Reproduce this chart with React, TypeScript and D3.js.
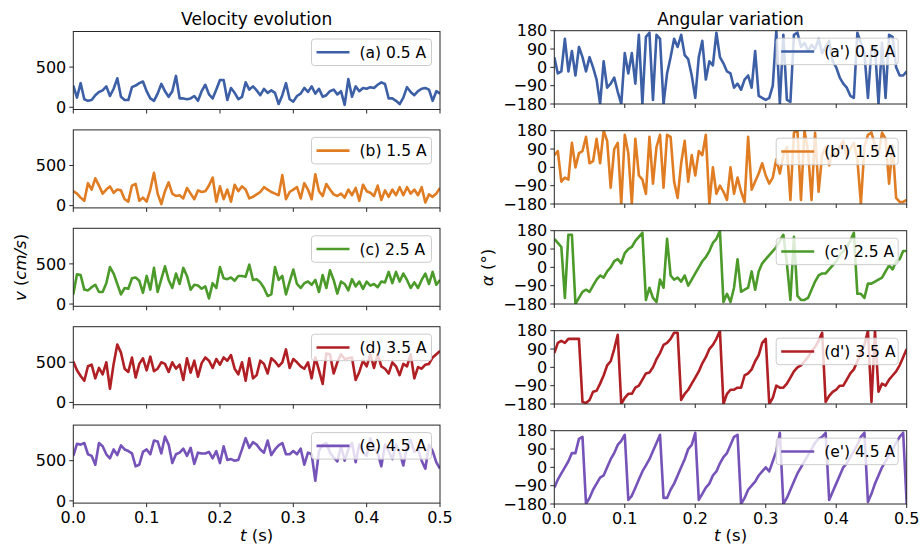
import React from "react";
import * as d3 from "d3";

// time axis: every series is sampled on the same grid from 0 to 0.5 s
const T_END = 0.5;
const xTicks = [0, 0.1, 0.2, 0.3, 0.4, 0.5];
const velTicks = [0, 500];
const angTicks = [-180, -90, 0, 90, 180];

const velLabels = ["(a) 0.5 A", "(b) 1.5 A", "(c) 2.5 A", "(d) 3.5 A", "(e) 4.5 A"];
const angLabels = ["(a') 0.5 A", "(b') 1.5 A", "(c') 2.5 A", "(d') 3.5 A", "(e') 4.5 A"];
const colors = ["#3c5fa6", "#e07c22", "#4b9a2a", "#b01f24", "#7653b8"];

// velocity (cm/s)
const velA = [
  270, 120, 300, 100, 80, 90, 150, 190, 210, 260,
  140, 230, 360, 130, 90, 90, 250, 270, 300, 320,
  200, 110, 80, 170, 290, 200, 130, 200, 390, 110,
  110, 100, 110, 140, 80, 200, 280, 160, 110, 220,
  340, 340, 90, 240, 180, 100, 130, 310, 220, 260,
  210, 150, 230, 180, 210, 180, 40, 150, 300, 100,
  70, 140, 170, 240, 190, 260, 170, 230, 130, 150,
  200, 220, 160, 200, 30, 350, 130, 260, 200, 240,
  230, 250, 240, 280, 310, 290, 110, 110, 80, 40,
  120, 250, 190, 150, 200, 230, 240, 220, 80, 200,
  170,
];
const velB = [
  180, 150, 100, 60, 280, 200, 340, 250, 150, 200,
  240, 160, 200, 190, 80, 50, 250, 270, 60, 100,
  50, 200, 410, 150, 20, 180, 290, 150, 120, 130,
  90, 220, 150, 80, 190, 170, 180, 250, 350, 50,
  240, 80, 200, 50, 260, 180, 240, 200, 90, 110,
  140, 170, 230, 200, 170, 150, 130, 380, 80, 170,
  200, 230, 90, 280, 200, 80, 390, 180, 120, 270,
  200, 140, 120, 150, 100, 200, 130, 220, 60, 260,
  180, 160, 120, 250, 70, 190, 110, 200, 130, 230,
  130, 230, 150, 200, 130, 230, 40, 140, 110, 150,
  220,
];
const velC = [
  120, 370, 360, 180, 170, 210, 240, 150, 150, 260,
  460, 380, 250, 120, 200, 190, 320, 330, 290, 140,
  350, 180, 450, 150, 310, 470, 300, 200, 380, 250,
  450, 350, 180, 240, 230, 190, 220, 70, 260, 200,
  460, 320, 310, 330, 290, 350, 350, 340, 490, 300,
  310, 270, 200, 100, 120, 460, 300, 350, 120, 280,
  430, 250, 200, 260, 280, 240, 300, 150, 360, 200,
  420, 300, 130, 280, 250, 170, 310, 220, 280, 190,
  280, 230, 250, 210, 280, 270, 400, 260, 400, 280,
  380, 300, 200, 270, 200, 300, 380, 250, 400, 240,
  300,
];
const velD = [
  510, 400, 330, 270, 450, 470, 300, 430, 350, 500,
  170, 480, 720, 620, 420, 380, 560, 310, 480, 550,
  400, 570, 390, 420, 500, 480, 380, 500, 420, 470,
  280, 550, 370, 520, 320, 490, 560, 520, 430, 540,
  470, 560, 520, 590, 420, 350, 500, 270, 550, 300,
  340, 520, 480, 360, 550, 510, 450, 500, 660, 430,
  540, 500, 450, 420, 500, 300, 560, 400, 230, 610,
  600, 360, 500, 600, 540, 550, 560, 280, 380, 520,
  450, 600, 430, 600, 450, 420, 360, 500, 450, 340,
  480, 450, 600, 300, 440, 420, 470, 480, 560, 600,
  640,
];
const velE = [
  560, 710, 700, 720, 580, 560, 450, 720, 680, 580,
  530, 640, 570, 690, 640, 620, 590, 430, 450, 610,
  640, 580, 750, 740, 590, 800, 700, 470, 580, 600,
  650, 560, 660, 460, 600, 590, 590, 610, 530, 620,
  470, 680, 510, 520, 500, 510, 640, 780, 660, 730,
  700, 640, 600, 750, 570, 640, 690, 720, 580, 580,
  620, 580, 650, 450, 600, 580, 250, 620, 700, 720,
  600, 540, 490, 680, 500, 640, 720, 480, 700, 600,
  560, 780, 650, 600, 430, 700, 620, 520, 700, 600,
  440, 680, 760, 610, 640, 500, 400, 700, 620, 480,
  400,
];

// angle (degrees)
const angA = [
  50, -30, -20, 140, -20, 80, -40, 100, 50, -20,
  50, 0, -60, -180, 30, -100, -80, -50, -120, -180,
  70, -30, 70, -80, 160, -180, 150, 170, -160, 160,
  140, -180, -30, 50, 140, 100, 160, 60, 40, -40,
  -150, 50, 130, -60, 30, 10, 170, 50, 20, -20,
  -30, -100, -80, -110, -60, -40, -100, 80, -140, -150,
  -160, -150, -90, 180, -180, 160, -160, -170, 160, 170,
  100, 120, 80, 110, 90, 140, 70, 100, 130, 30,
  0, -50, -80, -100, -140, -150, 170, 120, 70, -150,
  90, 100, -180, 120, -150, 160, 150, 0, -40, -40,
  -20,
];
const angB = [
  60, 80, -70, -50, -60, 120, 0, 70, 80, 150,
  20, 30, 140, 20, 180, 130, -100, 90, 120, -180,
  160, 70, -180, 140, -40, -60, -130, 150, -80, 100,
  160, -100, 160, 150, -70, -150, 20, 130, -70, 60,
  -40, 80, 60, 160, -180, 0, -130, -90, -120, -160,
  0, -130, -50, -120, -170, 150, -110, -70, -30, 20,
  -40, -80, -50, 40, -30, 60, 100, -160, 170, 180,
  -160, 180, 80, -160, 170, -120, 60, 100, 10, 80,
  50, 100, 130, 50, 90, 120, 40, -180, 100, 160,
  170, 110, 60, 170, 140, -80, 110, -150, -170, -170,
  -160,
];
const angC = [
  140, 120, 100, -150, 160, 160, -180, -150, -120, -110,
  -120, -90, -60, -40, -50, -20, 0, 30, 40, 20,
  70, 90, 100, 130, 150, 170, -160, -100, -150, -170,
  -60, -100, 140, -40, -60, -50, -70, -40, -90, -60,
  -30, 0, 30, 50, 80, 120, 140, 180, -170, -130,
  -170, -100, 40, -120, -110, -100, -20, -110, -20, 20,
  40, 60, 80, 100, 130, 160, 20, -160, 150, -140,
  -160, -160, -150, -110, -70, -40, -30, -30, -10, 10,
  30, 60, 80, 100, 130, 170, -130, -130, -150, -80,
  -80, -70, -60, -50, -20, 10, -10, 30, 40, 80,
  80,
];
const angD = [
  70, 120, 130, 120, 140, 140, 140, 140,
  -170, -175, -160, -120, -115, -80, -40, 10, 30, 90, 160,
  -180, -150, -130, -130, -100, -90, -60, -30, -25, 0, 40, 70, 110, 120, 140, 170, 170,
  -160, -130, -110, -80, -50, -20, 20, 50, 90, 110, 140, 180,
  -180, -130, -110, -110, -100, -100, -40, -30, -10, 30, 60, 120, 140,
  -180, -150, -90, -100, -100, -80, -50, -20, 0, 10, 30, 50, 80, 100, 130, 170,
  -170, -140, -120, -110, -90, -90, -60, -30, -10, 30, 70, 110, 180,
  -170, 180,
  -120, -80, -90, -60, -40, -20, 10, 50, 90,
];
const angE = [
  -100, -60, -30, 0, 30, 70, 70, 140, 150,
  -180, -150, -110, -80, -50, -40, 0, 40, 70, 110, 130, 160,
  -160, -140, -100, -60, -20, 10, 40, 80, 120, 160,
  -150, -150, -110, -80, -40, 0, 40, 90, 110, 170,
  -160, -130, -100, -80, -40, -20, 20, 50, 70, 110, 150, 160,
  -180, -150, -110, -90, -70, -40, -20, 0, -20, 30, 80, 170,
  -180, -150, -110, -70, -30, 0, 30, 60, 90, 120, 140, 150, 170,
  -160, -120, -80, -40, 0, 20, 50, 80, 110, 150, 170,
  -170, -130, -80, -40, 0, 30, 60, 90, 120, 150, 170,
  -180,
];

const velSeries = [velA, velB, velC, velD, velE];
const angSeries = [angA, angB, angC, angD, angE];

const W = 921;
const H = 547;
const FONT = "DejaVu Sans, sans-serif";
const AXIS = "#262626";
const LW = 2.6;

const left = { x0: 73.3, x1: 440, top: 31.5, step: 98.4, h: 78, domain: [-28, 943], ticks: velTicks };
const right = { x0: 554.3, x1: 906.7, top: 30.7, step: 100, h: 73.3, domain: [-180, 180], ticks: angTicks };

type Col = typeof left;

function Panel({ col, row, values, color, label, legendW, last, id }: {
  col: Col; row: number; values: number[]; color: string; label: string; legendW: number; last: boolean; id: string;
}) {
  const top = col.top + row * col.step;
  const bottom = top + col.h;
  const x = d3.scaleLinear().domain([0, T_END]).range([col.x0, col.x1]);
  const y = d3.scaleLinear().domain(col.domain).range([bottom, top]);
  const dt = T_END / (values.length - 1);
  const line = d3
    .line<number>()
    .x((_, i) => x(i * dt))
    .y((d) => y(d));

  const lx1 = col.x1 - 8.5;
  const lx0 = lx1 - legendW;
  const ly0 = top + 7.5;
  const lh = 26.5;

  return (
    <g>
      <defs>
        <clipPath id={id}>
          <rect x={col.x0} y={top} width={col.x1 - col.x0} height={col.h} />
        </clipPath>
      </defs>
      <path d={line(values) || ""} fill="none" stroke={color} strokeWidth={LW} strokeLinejoin="round" clipPath={`url(#${id})`} />
      <rect x={col.x0} y={top} width={col.x1 - col.x0} height={col.h} fill="none" stroke={AXIS} strokeWidth={1} />
      {col.ticks.map((t) => (
        <g key={"y" + t}>
          <line x1={col.x0 - 4} x2={col.x0} y1={y(t)} y2={y(t)} stroke={AXIS} />
          <text x={col.x0 - 7} y={y(t)} dy="0.36em" textAnchor="end" fontSize={16} fontFamily={FONT} fill="#000">
            {t < 0 ? "\u2212" + Math.abs(t) : t}
          </text>
        </g>
      ))}
      {xTicks.map((t) => (
        <g key={"x" + t}>
          <line x1={x(t)} x2={x(t)} y1={bottom} y2={bottom + 4} stroke={AXIS} />
          {last && (
            <text x={x(t)} y={bottom + 19.5} textAnchor="middle" fontSize={16} fontFamily={FONT} fill="#000">
              {t.toFixed(1)}
            </text>
          )}
        </g>
      ))}
      <rect x={lx0} y={ly0} width={legendW} height={lh} rx={3} fill="#fff" fillOpacity={0.8} stroke="#cccccc" strokeWidth={1} />
      <line x1={lx0 + 5} x2={lx0 + 38} y1={ly0 + lh / 2} y2={ly0 + lh / 2} stroke={color} strokeWidth={LW} />
      <text x={lx0 + 48} y={ly0 + lh / 2} dy="0.36em" fontSize={15.5} fontFamily={FONT} fill="#000">
        {label}
      </text>
    </g>
  );
}

export default function App() {
  return (
    <svg width={W} height={H} style={{ display: "block", position: "absolute", left: 0, top: 0, background: "#fff" }}>
      <rect width={W} height={H} fill="#fff" />
      <text x={(left.x0 + left.x1) / 2} y={25} textAnchor="middle" fontSize={17} fontFamily={FONT}>
        Velocity evolution
      </text>
      <text x={(right.x0 + right.x1) / 2} y={25} textAnchor="middle" fontSize={17} fontFamily={FONT}>
        Angular variation
      </text>
      {velSeries.map((v, i) => (
        <Panel key={"v" + i} id={"cv" + i} col={left} row={i} values={v} color={colors[i]} label={velLabels[i]} legendW={120} last={i === 4} />
      ))}
      {angSeries.map((v, i) => (
        <Panel key={"a" + i} id={"ca" + i} col={right} row={i} values={v} color={colors[i]} label={angLabels[i]} legendW={122} last={i === 4} />
      ))}
      <text transform={`translate(26,267.5) rotate(-90)`} textAnchor="middle" fontSize={16.5} fontFamily={FONT}>
        <tspan fontStyle="italic">v</tspan> (<tspan fontStyle="italic">cm/s</tspan>)
      </text>
      <text transform={`translate(493,267.5) rotate(-90)`} textAnchor="middle" fontSize={16.5} fontFamily={FONT}>
        <tspan fontStyle="italic">α</tspan> (°)
      </text>
      <text x={(left.x0 + left.x1) / 2} y={541} textAnchor="middle" fontSize={16.5} fontFamily={FONT}>
        <tspan fontStyle="italic">t</tspan> (s)
      </text>
      <text x={(right.x0 + right.x1) / 2} y={541} textAnchor="middle" fontSize={16.5} fontFamily={FONT}>
        <tspan fontStyle="italic">t</tspan> (s)
      </text>
    </svg>
  );
}
